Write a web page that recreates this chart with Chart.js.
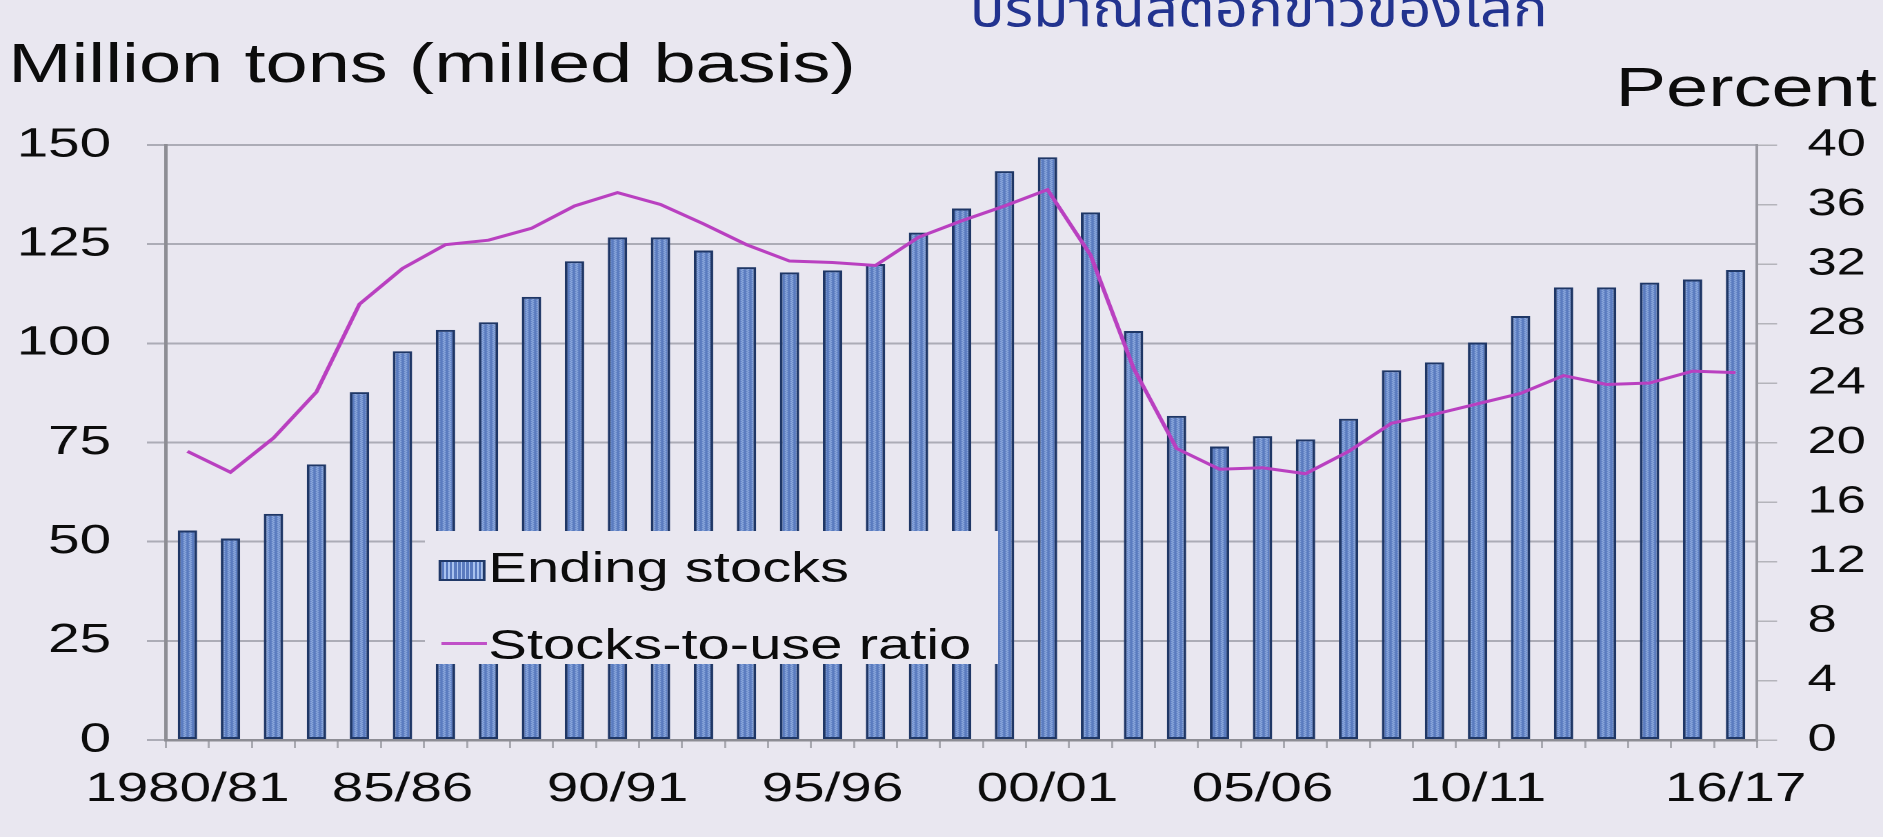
<!DOCTYPE html>
<html>
<head>
<meta charset="utf-8">
<script src="https://cdn.jsdelivr.net/npm/chart.js@4.4.1/dist/chart.umd.min.js"></script>
<style>
html,body{margin:0;padding:0;width:1883px;height:837px;overflow:hidden;background:#e9e7f0;}
#wrap{position:absolute;left:0;top:0;width:1365px;height:837px;transform:scaleX(1.3795);transform-origin:0 0;font-family:'Liberation Sans',Arial,sans-serif;color:#0c0c0c;}
#cbox{position:absolute;left:0;top:0;width:1365px;height:837px;}
.t{position:absolute;white-space:nowrap;line-height:1;}
#thai{transform:scaleY(1.25);transform-origin:0 100%;}
#legend{position:absolute;left:308px;top:531px;width:415px;height:133px;background:#e9e7f0;}
#licon{position:absolute;left:10px;top:29px;width:34px;height:21px;box-sizing:border-box;border:2px solid #203968;background:repeating-linear-gradient(90deg,#5a7bbf 0,#5a7bbf 2px,#a8c2ee 2px,#a8c2ee 3px);}
#lline{position:absolute;left:12px;top:111px;width:33px;height:2.5px;background:#c050c8;}
</style>
</head>
<body>
<div id="wrap">
  <div id="cbox"><canvas id="c"></canvas></div>
  <div class="t" id="thai" style="left:703px;top:-6px;font-size:42px;color:#22338f;font-family:'Noto Sans Thai','Noto Sans','DejaVu Sans',sans-serif;">ปริมาณสต็อกข้าวของโลก</div>
  <div class="t" style="left:6px;top:36px;font-size:55px;">Million tons (milled basis)</div>
  <div class="t" style="left:1171px;top:60px;font-size:55px;">Percent</div>
  <div id="legend">
    <div id="licon"></div>
    <div class="t" style="left:46px;top:16px;font-size:42px;">Ending stocks</div>
    <div id="lline"></div>
    <div class="t" style="left:46px;top:93px;font-size:42px;">Stocks-to-use ratio</div>
  </div>
</div>
<script>
const categories = ['1980/81','81/82','82/83','83/84','84/85','85/86','86/87','87/88','88/89','89/90',
  '90/91','91/92','92/93','93/94','94/95','95/96','96/97','97/98','98/99','99/00',
  '00/01','01/02','02/03','03/04','04/05','05/06','06/07','07/08','08/09','09/10',
  '10/11','11/12','12/13','13/14','14/15','15/16','16/17'];
const shownXLabels = ['1980/81','85/86','90/91','95/96','00/01','05/06','10/11','16/17'];
const endingStocks = [52.8,50.8,57.0,69.5,87.7,98.0,103.4,105.3,111.7,120.7,
  126.7,126.7,123.4,119.2,117.9,118.4,120.0,127.9,134.0,143.4,
  146.9,133.0,103.1,81.7,74.0,76.6,75.8,81.0,93.2,95.2,
  100.2,106.9,114.1,114.1,115.3,116.1,118.5];
const stocksToUse = [19.4,18.0,20.3,23.4,29.3,31.7,33.3,33.6,34.4,35.9,
  36.8,36.0,34.7,33.3,32.2,32.1,31.9,33.8,34.9,35.9,
  37.0,32.6,25.0,19.6,18.2,18.3,17.9,19.4,21.3,21.9,
  22.6,23.3,24.5,23.9,24.0,24.8,24.7];
const leftTicks = [0,25,50,75,100,125,150];
const rightTicks = [0,4,8,12,16,20,24,28,32,36,40];

function makePattern(){
  const c=document.createElement('canvas'); c.width=4; c.height=4;
  const g=c.getContext('2d');
  g.fillStyle='#5a7bbf'; g.fillRect(0,0,4,4);
  g.fillStyle='#a8c2ee';
  g.fillRect(1,0,1,1); g.fillRect(1,2,1,1); g.fillRect(2,1,1,1); g.fillRect(2,3,1,1);
  return g.createPattern(c,'repeat');
}

Chart.defaults.font.family = "'Liberation Sans', Arial, sans-serif";
Chart.defaults.color = '#0c0c0c';

new Chart(document.getElementById('c'), {
  type: 'bar',
  data: {
    labels: categories,
    datasets: [
      {type:'line', label:'Stocks-to-use ratio', data:stocksToUse, yAxisID:'y1',
       borderColor:'#b940c0', borderWidth:3, pointRadius:0, tension:0, order:0, fill:false},
      {type:'bar', label:'Ending stocks', data:endingStocks, yAxisID:'y',
       backgroundColor:makePattern(), borderColor:'#1f3766', borderWidth:2,
       borderSkipped:false, categoryPercentage:1.0, barPercentage:0.45, order:1}
    ]
  },
  options: {
    animation:false, responsive:true, maintainAspectRatio:false, devicePixelRatio:2,
    layout:{padding:{top:145,left:0,right:0,bottom:0}},
    plugins:{legend:{display:false}, tooltip:{enabled:false}, title:{display:false}},
    scales:{
      x:{
        offset:true,
        grid:{display:true, drawOnChartArea:false, offset:true, tickLength:8, color:'#a8a8b0', lineWidth:1.5},
        border:{display:true, color:'#8d8d94', width:2.5},
        ticks:{autoSkip:false, maxRotation:0, minRotation:0, padding:17, font:{size:41},
          callback:function(v,i){ const l=categories[i]; return shownXLabels.includes(l)?l:''; }},
        afterFit:function(s){ s.height = 97; }
      },
      y:{
        position:'left', min:0, max:150,
        afterBuildTicks:function(s){ s.ticks = leftTicks.map(v=>({value:v})); },
        grid:{color:'rgba(140,140,150,0.65)', lineWidth:2, drawTicks:true, tickLength:13.8},
        border:{display:true, color:'#8d8d94', width:2.5},
        ticks:{padding:26, font:{size:41}},
        afterFit:function(s){ s.width = 120.3; }
      },
      y1:{
        position:'right', min:0, max:40,
        afterBuildTicks:function(s){ s.ticks = rightTicks.map(v=>({value:v})); },
        grid:{drawOnChartArea:false, drawTicks:true, tickLength:14.5, color:'#b4b4bb', lineWidth:1.5},
        border:{display:true, color:'#9a9aa2', width:2},
        ticks:{padding:22, font:{size:38}},
        afterFit:function(s){ s.width = 91.3; }
      }
    }
  }
});
</script>
</body>
</html>
